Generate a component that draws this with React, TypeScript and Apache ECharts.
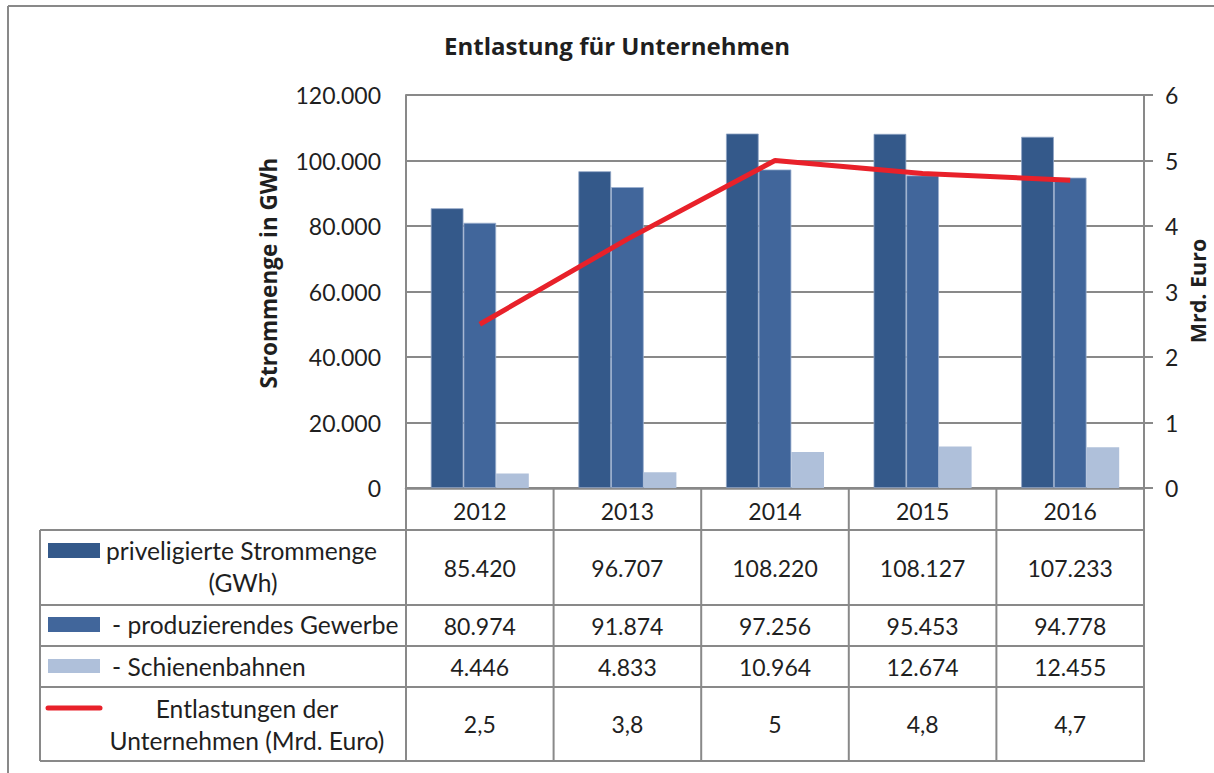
import React, { useEffect, useRef } from "react";
import * as echarts from "echarts";

const years = ["2012", "2013", "2014", "2015", "2016"];
const privileged = [85420, 96707, 108220, 108127, 107233];
const produzierend = [80974, 91874, 97256, 95453, 94778];
const schienen = [4446, 4833, 10964, 12674, 12455];
const entlastung = [2.5, 3.8, 5, 4.8, 4.7];
const leftTicks = [0, 20000, 40000, 60000, 80000, 100000, 120000];

const C_DARK = "#34598A";
const C_MID = "#41669B";
const C_LIGHT = "#AFC0DA";
const C_RED = "#E8212A";
const C_LINE = "#898989";
const TXT = "#1f1f1f";
const FONT = "Lato, 'Open Sans', sans-serif";
const BFONT = "'Open Sans', Lato, sans-serif";

const fmtThousands = (v: number) =>
  String(v).replace(/\B(?=(\d{3})+(?!\d))/g, ".");
const fmtDec = (v: number) => String(v).replace(".", ",");

const GRID_L = 406;
const GRID_R = 1144;
const GRID_T = 95;
const GRID_B = 488;

export default function App() {
  const ref = useRef<HTMLDivElement>(null);
  useEffect(() => {
    if (!ref.current) return;
    const chart = echarts.init(ref.current, null, { renderer: "svg" });
    const colW = (GRID_R - GRID_L) / years.length;
    const tableL = 40;
    const rowY = [530, 605, 646, 687, 761];
    const rowC = [567.5, 625.5, 666.5, 724];
    const graphics: any[] = [];
    // outer frame
    graphics.push({ type: "line", shape: { x1: 8, y1: 6, x2: 1214, y2: 6 }, style: { stroke: C_LINE, lineWidth: 2 } });
    graphics.push({ type: "line", shape: { x1: 8, y1: 6, x2: 8, y2: 773 }, style: { stroke: C_LINE, lineWidth: 2 } });
    // horizontal table lines
    rowY.forEach((y) => {
      graphics.push({ type: "line", shape: { x1: tableL, y1: y, x2: GRID_R + 1, y2: y }, style: { stroke: C_LINE, lineWidth: 2 } });
    });
    // vertical table lines
    graphics.push({ type: "line", shape: { x1: tableL, y1: rowY[0], x2: tableL, y2: rowY[4] }, style: { stroke: C_LINE, lineWidth: 2 } });
    for (let i = 0; i <= years.length; i++) {
      const x = GRID_L + i * colW;
      graphics.push({ type: "line", shape: { x1: x, y1: GRID_B, x2: x, y2: rowY[4] }, style: { stroke: C_LINE, lineWidth: 2 } });
    }
    // values
    const rows = [
      privileged.map(fmtThousands),
      produzierend.map(fmtThousands),
      schienen.map(fmtThousands),
      entlastung.map(fmtDec),
    ];
    rows.forEach((r, ri) => {
      r.forEach((t, ci) => {
        graphics.push({
          type: "text",
          x: GRID_L + (ci + 0.5) * colW,
          y: rowC[ri],
          style: { text: t, fill: TXT, font: `23px ${FONT}`, align: "center", verticalAlign: "middle" },
        });
      });
    });
    // legend keys
    graphics.push({ type: "rect", shape: { x: 48, y: 543, width: 52, height: 15 }, style: { fill: C_DARK } });
    graphics.push({ type: "rect", shape: { x: 48, y: 617, width: 52, height: 15 }, style: { fill: C_MID } });
    graphics.push({ type: "rect", shape: { x: 48, y: 659, width: 52, height: 14 }, style: { fill: C_LIGHT } });
    graphics.push({ type: "line", shape: { x1: 48, y1: 708, x2: 100, y2: 708 }, style: { stroke: C_RED, lineWidth: 5, lineCap: "round" } });
    const lbl = (t: string, x: number, y: number, align: string) => ({
      type: "text",
      x,
      y,
      style: { text: t, fill: TXT, font: `24.6px ${FONT}`, align, verticalAlign: "middle" },
    });
    graphics.push(lbl("priveligierte Strommenge", 106, 550, "left"));
    graphics.push(lbl("(GWh)", 243, 582, "center"));
    graphics.push(lbl("- produzierendes Gewerbe", 112, 624, "left"));
    graphics.push(lbl("- Schienenbahnen", 112, 666, "left"));
    graphics.push(lbl("Entlastungen der", 247, 708, "center"));
    graphics.push(lbl("Unternehmen (Mrd. Euro)", 247, 740, "center"));
    // axis titles
    graphics.push({
      type: "text",
      x: 268,
      y: 273,
      rotation: Math.PI / 2,
      style: { text: "Strommenge in GWh", fill: TXT, font: `bold 22.5px ${BFONT}`, align: "center", verticalAlign: "middle" },
    });
    graphics.push({
      type: "text",
      x: 1197,
      y: 291,
      rotation: Math.PI / 2,
      style: { text: "Mrd. Euro", fill: TXT, font: `bold 21.5px ${BFONT}`, align: "center", verticalAlign: "middle" },
    });

    chart.setOption({
      animation: false,
      backgroundColor: "#ffffff",
      title: {
        text: "Entlastung für Unternehmen",
        left: 612,
        textAlign: "center",
        top: 28,
        textStyle: { fontFamily: BFONT, fontWeight: "bold", fontSize: 24, color: TXT },
      },
      grid: { left: GRID_L, right: 1214 - GRID_R, top: GRID_T, bottom: 773 - GRID_B, containLabel: false },
      xAxis: {
        type: "category",
        data: years,
        axisLine: { lineStyle: { color: C_LINE, width: 2.5 } },
        axisTick: { show: false },
        axisLabel: { margin: 11, fontFamily: FONT, fontSize: 23, color: TXT },
      },
      yAxis: [
        {
          type: "value",
          min: 0,
          max: leftTicks[leftTicks.length - 1],
          interval: leftTicks[1] - leftTicks[0],
          axisLine: { show: true, lineStyle: { color: C_LINE, width: 2 } },
          axisTick: { show: false },
          splitLine: { lineStyle: { color: C_LINE, width: 2 } },
          axisLabel: { margin: 25, fontFamily: FONT, fontSize: 23, color: TXT, formatter: (v: number) => fmtThousands(v) },
        },
        {
          type: "value",
          min: 0,
          max: 6,
          interval: 1,
          position: "right",
          axisLine: { show: true, lineStyle: { color: C_LINE, width: 2 } },
          axisTick: { show: true, length: 9, lineStyle: { color: C_LINE, width: 2 } },
          splitLine: { show: false },
          axisLabel: { margin: 21, fontFamily: FONT, fontSize: 23, color: TXT },
        },
      ],
      series: [
        {
          name: "priveligierte Strommenge (GWh)",
          type: "bar",
          data: privileged,
          barGap: "0%",
          barCategoryGap: "33.6%",
          itemStyle: { color: C_DARK, borderColor: "#8ea3c4", borderWidth: 0.8 },
        },
        {
          name: "- produzierendes Gewerbe",
          type: "bar",
          data: produzierend,
          barGap: "0%",
          barCategoryGap: "33.6%",
          itemStyle: { color: C_MID, borderColor: "#9cb0cf", borderWidth: 0.8 },
        },
        {
          name: "- Schienenbahnen",
          type: "bar",
          data: schienen,
          barGap: "0%",
          barCategoryGap: "33.6%",
          itemStyle: { color: C_LIGHT },
        },
        {
          name: "Entlastungen der Unternehmen (Mrd. Euro)",
          type: "line",
          yAxisIndex: 1,
          data: entlastung,
          showSymbol: false,
          symbol: "none",
          lineStyle: { color: C_RED, width: 5 },
          z: 5,
        },
      ],
      graphic: graphics,
    });
    return () => chart.dispose();
  }, []);
  return (
    <div
      ref={ref}
      style={{ position: "fixed", left: 0, top: 0, width: 1214, height: 773, background: "#fff" }}
    />
  );
}
